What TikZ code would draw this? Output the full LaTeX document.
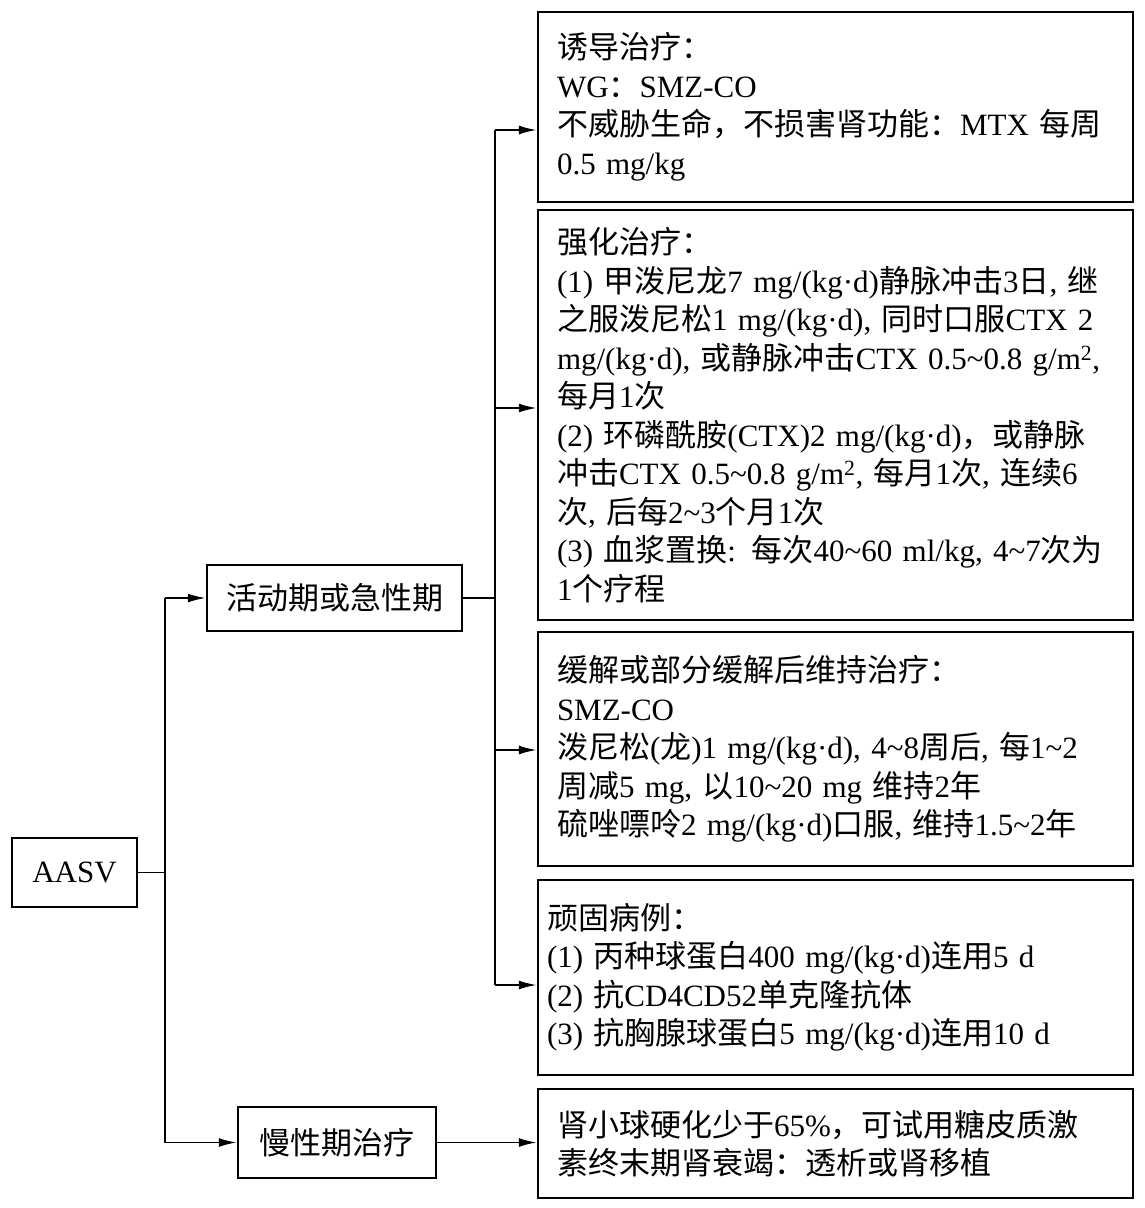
\documentclass[tikz,border=0pt]{standalone}
\usepackage{fontspec}
\setmainfont{Liberation Serif}
\newfontfamily\cjkfont{Noto Sans CJK SC}
\usetikzlibrary{arrows.meta}
\XeTeXinterchartokenstate=1
\newXeTeXintercharclass\CJKcls
\makeatletter
\count@="4E00
\loop\XeTeXcharclass\count@=\CJKcls\advance\count@ by 1\ifnum\count@<"A000\repeat
\count@="3000
\loop\XeTeXcharclass\count@=\CJKcls\advance\count@ by 1\ifnum\count@<"3040\repeat
\count@="FF00
\loop\XeTeXcharclass\count@=\CJKcls\advance\count@ by 1\ifnum\count@<"FFF0\repeat
\makeatother
\XeTeXinterchartoks 0 \CJKcls = {\begingroup\cjkfont}
\XeTeXinterchartoks 4095 \CJKcls = {\begingroup\cjkfont}
\XeTeXinterchartoks \CJKcls 0 = {\endgroup}
\XeTeXinterchartoks \CJKcls 4095 = {\endgroup}
\newcommand\Ln[1]{\mbox{#1}}
\newcommand\tl{\textasciitilde}
\tikzset{
  box/.style={draw, line width=2.5pt, rectangle, inner sep=0pt},
  txtbox/.style={box, align=left, text width=557pt, inner xsep=19pt, minimum width=595pt},
  conn/.style={line width=1.8pt},
  arr/.style={conn, -{Latex[length=18pt,width=9pt]}},
  every node/.style={font=\fontsize{31}{38.5}\selectfont}
}
\begin{document}
\begin{tikzpicture}[x=1pt,y=-1pt]
\useasboundingbox (0,0) rectangle (1145,1208);
\node[box, minimum width=125pt, minimum height=69pt] (aasv) at (74.5,872.5) {AASV};
\node[box, minimum width=255pt, minimum height=66pt] (act) at (334.5,598) {活动期或急性期};
\node[box, minimum width=198pt, minimum height=71pt] (chr) at (337,1142.5) {慢性期治疗};
\node[txtbox, minimum height=190pt] (b1) at (835.5,107) {\Ln{诱导治疗：}\\\Ln{WG：SMZ-CO}\\\Ln{不威胁生命，不损害肾功能：MTX 每周}\\\Ln{0.5 mg/kg}};
\node[txtbox, minimum height=410pt] (b2) at (835.5,415) {\Ln{强化治疗：}\\
\Ln{(1) 甲泼尼龙7 mg/(kg·d)静脉冲击3日, 继}\\
\Ln{之服泼尼松1 mg/(kg·d), 同时口服CTX 2}\\
\Ln{mg/(kg·d), 或静脉冲击CTX 0.5\tl0.8 g/m\textsuperscript{2}, }\\
\Ln{每月1次}\\
\Ln{(2) 环磷酰胺(CTX)2 mg/(kg·d)，或静脉}\\
\Ln{冲击CTX 0.5\tl0.8 g/m\textsuperscript{2}, 每月1次, 连续6}\\
\Ln{次, 后每2\tl3个月1次}\\
\Ln{(3) 血浆置换: 每次40\tl60 ml/kg, 4\tl7次为}\\
\Ln{1个疗程}};
\node[txtbox, minimum height=234pt] (b3) at (835.5,749) {\Ln{缓解或部分缓解后维持治疗：}\\
\Ln{SMZ-CO}\\
\Ln{泼尼松(龙)1 mg/(kg·d), 4\tl8周后, 每1\tl2}\\
\Ln{周减5 mg, 以10\tl20 mg 维持2年}\\
\Ln{硫唑嘌呤2 mg/(kg·d)口服, 维持1.5\tl2年}};
\node[txtbox, inner xsep=9pt, text width=577pt, minimum height=195pt] (b4) at (835.5,977.5) {\Ln{顽固病例：}\\
\Ln{(1) 丙种球蛋白400 mg/(kg·d)连用5 d}\\
\Ln{(2) 抗CD4CD52单克隆抗体}\\
\Ln{(3) 抗胸腺球蛋白5 mg/(kg·d)连用10 d}};
\node[txtbox, minimum height=109pt] (b5) at (835.5,1143.5) {\Ln{肾小球硬化少于65\%，可试用糖皮质激}\\
\Ln{素终末期肾衰竭：透析或肾移植}};
% first level connectors
\coordinate (j1) at (165,872.5);
\draw[conn] (aasv.east) -- (j1);
\draw[conn] (j1 |- act.west) -- (j1 |- chr.west);
\draw[arr] (j1 |- act.west) -- (act.west);
\draw[arr] (j1 |- chr.west) -- (chr.west);
% second level
\coordinate (j2) at (495,598);
\coordinate (t1) at (495,130);
\coordinate (t2) at (495,408);
\coordinate (t3) at (495,750);
\coordinate (t4) at (495,985);
\draw[conn] (act.east) -- (j2);
\draw[conn] (t1) -- (t4);
\draw[arr] (t1) -- (t1 -| b1.west);
\draw[arr] (t2) -- (t2 -| b2.west);
\draw[arr] (t3) -- (t3 -| b3.west);
\draw[arr] (t4) -- (t4 -| b4.west);
\draw[arr] (chr.east) -- (chr.east -| b5.west);
\end{tikzpicture}
\end{document}
